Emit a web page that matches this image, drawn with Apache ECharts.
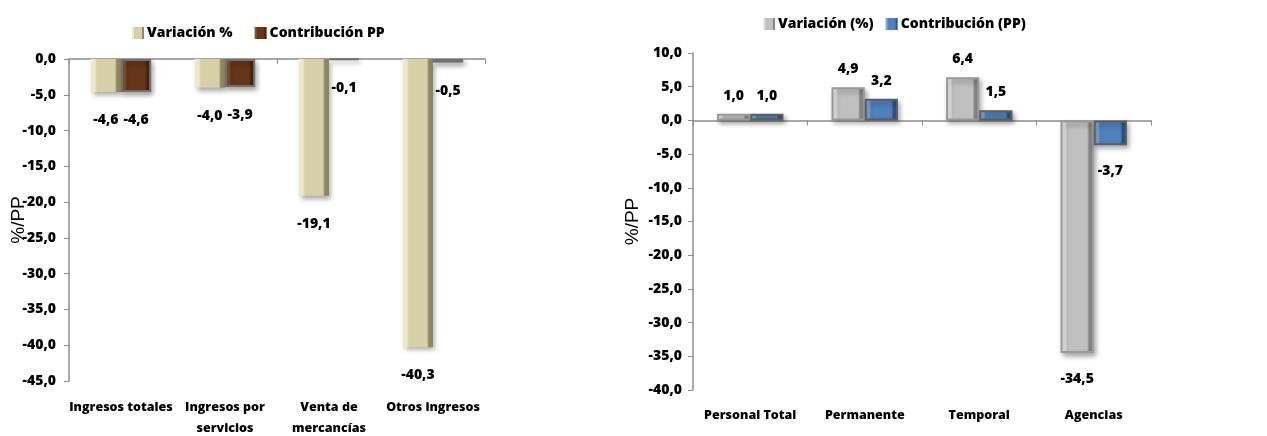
<!DOCTYPE html>
<html>
<head>
<meta charset="utf-8">
<script src="https://cdn.jsdelivr.net/npm/echarts@6/dist/echarts.min.js"></script>
<style>
html,body{margin:0;padding:0;background:#fff;}
#main{width:1267px;height:436px;}
</style>
</head>
<body>
<div id="main"></div>
<script>
/* datos panel izquierdo */
var catsIngresos = ['Ingresos totales', 'Ingresos por\nservicios', 'Venta de\nmercancías', 'Otros ingresos'];
var variacionIngresos = [-4.6, -4.0, -19.1, -40.3];
var contribIngresos = [-4.6, -3.9, -0.1, -0.5];

/* datos panel derecho */
var catsPersonal = ['Personal Total', 'Permanente', 'Temporal', 'Agencias'];
var variacionPersonal = [1.0, 4.9, 6.4, -34.5];
var contribPersonal = [1.0, 3.2, 1.5, -3.7];

var fuente = '"Open Sans", "Noto Sans", sans-serif';
var peso = 800;
var gris = '#8c8c8c';

var coma = function (v) {
    return Number(v).toFixed(1).replace('.', ',');
};

/* efecto de bisel aproximado con degradado */
var bisel = function (claro, cara, oscuro) {
    return new echarts.graphic.LinearGradient(0, 0, 1, 0, [
        {offset: 0, color: claro},
        {offset: 0.14, color: claro},
        {offset: 0.2, color: cara},
        {offset: 0.8, color: cara},
        {offset: 0.86, color: oscuro},
        {offset: 1, color: oscuro}
    ]);
};

var datos = function (arr, neg) {
    return arr.map(function (v) {
        return {value: v, label: {distance: v < 0 ? neg : 11}};
    });
};

var serie = function (nombre, arr, xi, yi, color, borde, neg) {
    return {
        name: nombre,
        type: 'bar',
        xAxisIndex: xi,
        yAxisIndex: yi,
        barGap: 0,
        barCategoryGap: '42%',
        data: datos(arr, neg),
        itemStyle: {
            color: color,
            borderColor: borde,
            borderWidth: borde ? 2 : 0,
            shadowColor: 'rgba(0,0,0,0.35)',
            shadowBlur: 5,
            shadowOffsetX: 2,
            shadowOffsetY: 3
        },
        label: {
            show: true,
            position: 'outside',
            formatter: function (p) { return coma(p.value); },
            color: '#000',
            fontFamily: fuente,
            fontWeight: peso,
            fontSize: 14
        }
    };
};

var ejeY = function (gi, min, max, gap, margen) {
    return {
        type: 'value',
        gridIndex: gi,
        min: min,
        max: max,
        interval: 5,
        name: '%/PP',
        nameLocation: 'middle',
        nameRotate: 90,
        nameGap: gap,
        nameMoveOverlap: false,
        nameTextStyle: {fontFamily: '"Liberation Sans", Arial, sans-serif', fontSize: 19, color: '#000'},
        axisLine: {show: true, lineStyle: {color: gris, width: 1.5}},
        axisTick: {show: true, length: 5, lineStyle: {color: gris}},
        splitLine: {show: false},
        axisLabel: {
            formatter: coma,
            color: '#000',
            fontFamily: fuente,
            fontWeight: peso,
            fontSize: 14,
            margin: margen
        }
    };
};

var ejeEtiquetas = function (gi, cats, margen) {
    return {
        type: 'category',
        gridIndex: gi,
        position: 'bottom',
        data: cats,
        axisLine: {show: false, onZero: false},
        axisTick: {show: false},
        axisLabel: {
            color: '#000',
            fontFamily: fuente,
            fontWeight: peso,
            fontSize: 12.5,
            lineHeight: 21,
            margin: margen,
            interval: 0
        }
    };
};

var ejeCero = function (gi, cats) {
    return {
        type: 'category',
        gridIndex: gi,
        position: 'top',
        data: cats,
        axisLine: {show: true, onZero: true, lineStyle: {color: gris, width: 1.5}},
        axisTick: {show: true, inside: true, length: 5, lineStyle: {color: gris}},
        axisLabel: {show: false}
    };
};

var leyenda = {fontFamily: fuente, fontWeight: peso, fontSize: 14, color: '#000', padding: [0, 0, 0, -2]};

var option = {
    animation: false,
    backgroundColor: '#fff',
    textStyle: {fontFamily: fuente},
    legend: [
        {
            data: ['Variación %', 'Contribución PP'],
            left: 127,
            top: 21,
            icon: 'rect',
            itemWidth: 12,
            itemHeight: 12,
            itemGap: 22,
            itemStyle: {borderWidth: 0, shadowBlur: 0, shadowOffsetX: 0, shadowOffsetY: 0},
            textStyle: leyenda
        },
        {
            data: ['Variación (%)', 'Contribución (PP)'],
            left: 758,
            top: 12,
            icon: 'rect',
            itemWidth: 12,
            itemHeight: 12,
            itemGap: 12,
            itemStyle: {borderWidth: 0, shadowBlur: 0, shadowOffsetX: 0, shadowOffsetY: 0},
            textStyle: leyenda
        }
    ],
    grid: [
        {left: 69, top: 59, width: 416, height: 322, outerBoundsMode: 'none'},
        {left: 693, top: 53, width: 458, height: 337, outerBoundsMode: 'none'}
    ],
    xAxis: [
        ejeEtiquetas(0, catsIngresos, 16),
        ejeCero(0, catsIngresos),
        ejeEtiquetas(1, catsPersonal, 15),
        ejeCero(1, catsPersonal)
    ],
    yAxis: [
        ejeY(0, -45, 0, 41, 13),
        ejeY(1, -40, 10, 51, 11)
    ],
    series: [
        serie('Variación %', variacionIngresos, 0, 0, bisel('#ece8c9', '#d6d0a8', '#8f8764'), null, 21),
        serie('Contribución PP', contribIngresos, 0, 0, bisel('#8a5434', '#66351a', '#46220e'), '#707070', 21),
        serie('Variación (%)', variacionPersonal, 2, 1, bisel('#e8e8e8', '#c0c0c0', '#858585'), '#9a9a9a', 19),
        serie('Contribución (PP)', contribPersonal, 2, 1, bisel('#7ea6d8', '#4f81bd', '#2c5587'), '#5e5e5e', 19)
    ]
};

var myChart = echarts.init(document.getElementById('main'));
myChart.setOption(option);
</script>
</body>
</html>
